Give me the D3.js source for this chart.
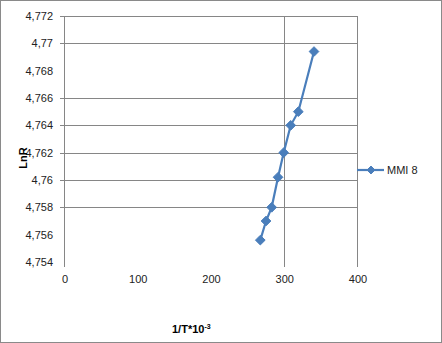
<!DOCTYPE html>
<html>
<head>
<meta charset="utf-8">
<script src="https://cdn.jsdelivr.net/npm/d3@7"></script>
<style>
  body { margin: 0; background: #fff; }
  svg { display: block; font-family: "Liberation Sans", Arial, sans-serif; }
</style>
</head>
<body>
<svg id="chart"></svg>
<script>
"use strict";

// data
const seriesName = "MMI 8";
const xValues = [268.0, 275.8, 283.5, 292.2, 299.9, 309.5, 319.9, 341.3];
const yValues = [4.7556, 4.7570, 4.7580, 4.7602, 4.7620, 4.7640, 4.7650, 4.7694];
const yTicks = [4.754, 4.756, 4.758, 4.76, 4.762, 4.764, 4.766, 4.768, 4.77, 4.772];
const xTicks = [0, 100, 200, 300, 400];
// the original only shows some of the grid lines
const yGrid = [4.758, 4.76, 4.762, 4.764, 4.766, 4.77, 4.772];
const xGrid = [300, 400];

const WIDTH = 442;
const HEIGHT = 343;
const BLUE = "#4a7ebb";
const GRID = "#868686";

const svg = d3.select("#chart")
  .attr("width", WIDTH)
  .attr("height", HEIGHT);

// outer frame
svg.append("rect")
  .attr("x", 0.5).attr("y", 0.5)
  .attr("width", WIDTH - 1).attr("height", HEIGHT - 1)
  .attr("fill", "#fff")
  .attr("stroke", "#8a8a8a");

const x = d3.scaleLinear().domain([0, 400]).range([64, 357]);
const y = d3.scaleLinear().domain([4.754, 4.772]).range([262, 16]);

const fmt = d => d3.format(".3~f")(d).replace(".", ",");

// horizontal grid lines
svg.append("g").selectAll("line")
  .data(yGrid)
  .enter().append("line")
  .attr("x1", 60).attr("x2", x(400))
  .attr("y1", d => Math.round(y(d)) + 0.5)
  .attr("y2", d => Math.round(y(d)) + 0.5)
  .attr("stroke", GRID);

// vertical grid lines (run past the plot as ticks)
svg.append("g").selectAll("line")
  .data(xGrid)
  .enter().append("line")
  .attr("x1", d => Math.round(x(d)) + 0.5)
  .attr("x2", d => Math.round(x(d)) + 0.5)
  .attr("y1", y(4.772)).attr("y2", 267)
  .attr("stroke", GRID);

// y axis line
svg.append("line")
  .attr("x1", 64.5).attr("x2", 64.5)
  .attr("y1", y(4.772)).attr("y2", 267)
  .attr("stroke", GRID);

// y tick labels
svg.append("g").selectAll("text")
  .data(yTicks)
  .enter().append("text")
  .attr("x", 53)
  .attr("y", d => y(d) + 4)
  .attr("text-anchor", "end")
  .attr("font-size", 11)
  .attr("fill", "#222")
  .text(fmt);

// x tick labels
svg.append("g").selectAll("text")
  .data(xTicks)
  .enter().append("text")
  .attr("x", d => x(d) + 1)
  .attr("y", 283)
  .attr("text-anchor", "middle")
  .attr("font-size", 11)
  .attr("fill", "#222")
  .text(d => d);

// axis titles
svg.append("text")
  .attr("transform", "translate(27,158) rotate(-90)")
  .attr("text-anchor", "middle")
  .attr("font-size", 11)
  .attr("font-weight", "bold")
  .text("LnR");

const xt = svg.append("text")
  .attr("x", 172)
  .attr("y", 333)
  .attr("font-size", 11)
  .attr("font-weight", "bold")
  .text("1/T*10");
xt.append("tspan")
  .attr("font-size", 7)
  .attr("dy", -4)
  .text("-3");

// series
const pts = d3.zip(xValues, yValues);

svg.append("path")
  .datum(pts)
  .attr("fill", "none")
  .attr("stroke", BLUE)
  .attr("stroke-width", 2.2)
  .attr("d", d3.line().x(d => x(d[0])).y(d => y(d[1])));

const diamond = d3.symbol().type(d3.symbolDiamond2).size(60);

svg.append("g").selectAll("path")
  .data(pts)
  .enter().append("path")
  .attr("transform", d => "translate(" + x(d[0]) + "," + y(d[1]) + ")")
  .attr("d", diamond)
  .attr("fill", BLUE)
  .attr("stroke", BLUE);

// legend
const ly = 170;
svg.append("line")
  .attr("x1", 357).attr("x2", 384)
  .attr("y1", ly).attr("y2", ly)
  .attr("stroke", BLUE)
  .attr("stroke-width", 2.2);
svg.append("path")
  .attr("transform", "translate(371," + ly + ")")
  .attr("d", d3.symbol().type(d3.symbolDiamond2).size(40))
  .attr("fill", BLUE)
  .attr("stroke", BLUE);
svg.append("text")
  .attr("x", 387)
  .attr("y", ly + 4)
  .attr("font-size", 11)
  .attr("fill", "#222")
  .text(seriesName);
</script>
</body>
</html>
